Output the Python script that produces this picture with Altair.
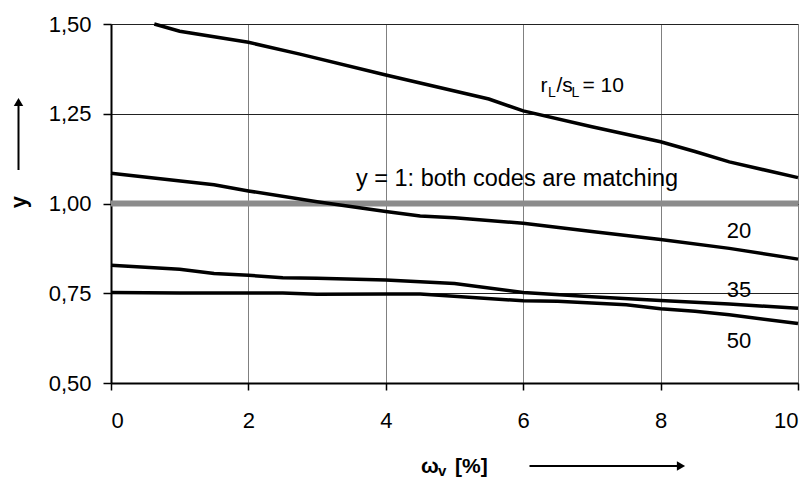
import altair as alt
import pandas as pd

# ---- data ----
x10 = [0.63, 1, 2, 2.75, 4, 5.5, 6, 7, 8, 8.5, 9, 10]
y10 = [1.50, 1.48, 1.449, 1.416, 1.358, 1.291, 1.258, 1.214, 1.172, 1.145, 1.116, 1.072]
x20 = [0, 1.5, 2, 3, 4, 4.5, 5, 6, 7, 8, 9, 10]
y20 = [1.084, 1.052, 1.035, 1.005, 0.978, 0.965, 0.960, 0.945, 0.922, 0.900, 0.875, 0.845]
x35 = [0, 1, 1.5, 2, 2.5, 3, 4, 5, 6, 7, 8, 9, 10]
y35 = [0.828, 0.817, 0.805, 0.800, 0.793, 0.792, 0.787, 0.777, 0.752, 0.740, 0.730, 0.720, 0.708]
x50 = [0, 1, 2, 2.5, 3, 4, 4.5, 6, 6.5, 7.5, 8, 8.5, 9, 10]
y50 = [0.752, 0.751, 0.751, 0.751, 0.747, 0.748, 0.748, 0.729, 0.728, 0.718, 0.707, 0.700, 0.690, 0.666]
ref_x = [0, 10]
ref_y = [1.0, 1.0]
x_ticks = [0, 2, 4, 6, 8, 10]
y_ticks = [0.5, 0.75, 1.0, 1.25, 1.5]

FONT = "Liberation Sans"

rows = []
for name, xs_, ys_ in [("10", x10, y10), ("20", x20, y20), ("35", x35, y35), ("50", x50, y50)]:
    for i, (a, b) in enumerate(zip(xs_, ys_)):
        rows.append({"ratio": name, "order": i, "w": a, "y": b})
df = pd.DataFrame(rows)
ref = pd.DataFrame({"w": ref_x, "y": ref_y})

xs = alt.Scale(domain=[0, 10], nice=False, zero=False)
ys = alt.Scale(domain=[0.5, 1.5], nice=False, zero=False)

xaxis = alt.Axis(values=x_ticks, format="d", title=None, grid=True, gridColor="#808080", gridWidth=1,
                 domain=True, domainColor="black", domainWidth=2, ticks=True, tickColor="black",
                 tickSize=7, tickWidth=1.5, labelFont=FONT, labelFontSize=22, labelColor="black",
                 labelPadding=20)
yaxis = alt.Axis(values=y_ticks, title=None, grid=True, gridColor="#222222", gridWidth=1,
                 domain=True, domainColor="black", domainWidth=2, ticks=True, tickColor="black",
                 tickSize=8, tickWidth=1.5, labelFont=FONT, labelFontSize=22, labelColor="black",
                 labelPadding=12,
                 labelExpr="replace(format(datum.value, '.2f'), '.', ',')")

refline = alt.Chart(ref).mark_line(color="#8c8c8c", strokeWidth=6, strokeCap="butt").encode(
    x=alt.X("w:Q", scale=xs, axis=xaxis),
    y=alt.Y("y:Q", scale=ys, axis=yaxis),
)

curves = alt.Chart(df).mark_line(color="black", strokeWidth=3.5).encode(
    x=alt.X("w:Q", scale=xs),
    y=alt.Y("y:Q", scale=ys),
    detail="ratio:N",
    order="order:Q",
)

# in-plot labels (data coordinates)
lab_main = pd.DataFrame({"w": [5.91], "y": [1.05], "t": ["y = 1: both codes are matching"]})
lab_nums = pd.DataFrame({"w": [9.14, 9.14, 9.14], "y": [0.904, 0.740, 0.597], "t": ["20", "35", "50"]})
lab_r = pd.DataFrame({"w": [6.25], "y": [1.311]})

t_main = alt.Chart(lab_main).mark_text(font=FONT, fontSize=23.5, align="center", baseline="alphabetic",
                                       color="black").encode(
    x=alt.X("w:Q", scale=xs), y=alt.Y("y:Q", scale=ys), text="t:N")
t_nums = alt.Chart(lab_nums).mark_text(font=FONT, fontSize=22, align="center", baseline="alphabetic",
                                       color="black").encode(
    x=alt.X("w:Q", scale=xs), y=alt.Y("y:Q", scale=ys), text="t:N")

r_parts = []
for txt, dx, dy, fs in [("r", 0, 0, 21), ("L", 7.5, 5, 14), ("/s", 16, 0, 21), ("L", 31, 5, 14), ("= 10", 42, 0, 21)]:
    r_parts.append(
        alt.Chart(lab_r).mark_text(font=FONT, fontSize=fs, align="left", baseline="alphabetic",
                                   color="black", dx=dx, dy=dy, text=txt).encode(
            x=alt.X("w:Q", scale=xs), y=alt.Y("y:Q", scale=ys))
    )

# outside annotations (pixel positions relative to plot origin)
one = pd.DataFrame({"a": [0]})
y_title = alt.Chart(one).mark_text(font=FONT, fontSize=22, fontWeight="bold", angle=270,
                                   align="center", baseline="middle", color="black", text="y").encode(
    x=alt.value(-92.5), y=alt.value(178))
y_arrow = alt.Chart(one).mark_rule(color="black", strokeWidth=2).encode(
    x=alt.value(-92.5), y=alt.value(146), y2=alt.value(82))
y_head = alt.Chart(one).mark_point(shape="triangle-up", filled=True, color="black", size=90, opacity=1).encode(
    x=alt.value(-92.5), y=alt.value(78))

x_t1 = alt.Chart(one).mark_text(font=FONT, fontSize=21, fontWeight="bold", align="left",
                                baseline="alphabetic", color="black", text="ω").encode(
    x=alt.value(310), y=alt.value(449))
x_t2 = alt.Chart(one).mark_text(font=FONT, fontSize=15, fontWeight="bold", align="left",
                                baseline="alphabetic", color="black", text="v").encode(
    x=alt.value(327), y=alt.value(452))
x_t3 = alt.Chart(one).mark_text(font=FONT, fontSize=21, fontWeight="bold", align="left",
                                baseline="alphabetic", color="black", text="[%]").encode(
    x=alt.value(344), y=alt.value(449))
x_arrow = alt.Chart(one).mark_rule(color="black", strokeWidth=2).encode(
    x=alt.value(418.5), x2=alt.value(568), y=alt.value(442))
x_head = alt.Chart(one).mark_point(shape="triangle-right", filled=True, color="black", size=90, opacity=1).encode(
    x=alt.value(570), y=alt.value(442))

chart = alt.layer(
    refline, curves, t_main, t_nums, *r_parts,
    y_title, y_arrow, y_head, x_t1, x_t2, x_t3, x_arrow, x_head,
).properties(
    width=687, height=359,
    autosize=alt.AutoSizeParams(type="none"),
    padding={"left": 111, "top": 24, "right": 14, "bottom": 97},
).configure_view(
    stroke="black", strokeWidth=2
).configure(background="white")

chart.save("out.html", embed_options={"renderer": "svg", "actions": False})
